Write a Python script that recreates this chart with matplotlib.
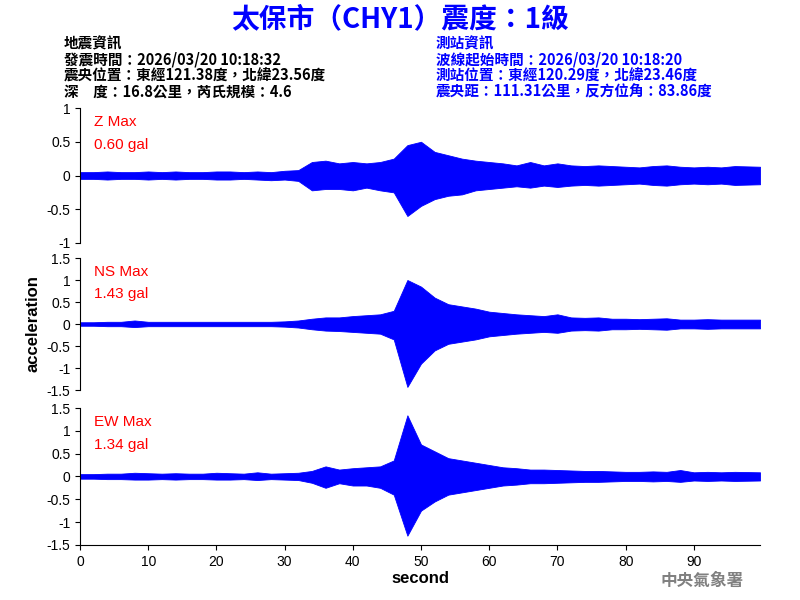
import numpy as np
import matplotlib
matplotlib.use("Agg")
import matplotlib.pyplot as plt

plt.rcParams["font.family"] = ["Noto Sans CJK TC", "DejaVu Sans"]

# envelope of each trace, read every 2 s (gal); last sample is the record end at 99.7 s
t = np.append(np.arange(0, 98, 2), 99.7)
z_up = [0.05,0.05,0.06,0.05,0.05,0.06,0.05,0.06,0.05,0.05,0.06,0.06,0.05,0.06,0.05,0.07,
        0.08,0.20,0.22,0.18,0.20,0.18,0.20,0.25,0.45,0.50,0.35,0.30,0.25,0.22,0.20,0.18,
        0.15,0.20,0.15,0.18,0.15,0.14,0.15,0.14,0.13,0.12,0.14,0.15,0.13,0.12,0.13,0.12,0.14,0.13]
z_lo = [-0.05,-0.05,-0.06,-0.05,-0.05,-0.06,-0.05,-0.06,-0.05,-0.05,-0.06,-0.06,-0.05,-0.06,-0.07,-0.06,
        -0.08,-0.22,-0.20,-0.20,-0.22,-0.18,-0.22,-0.25,-0.60,-0.45,-0.35,-0.30,-0.28,-0.22,-0.20,-0.18,
        -0.16,-0.18,-0.15,-0.17,-0.15,-0.14,-0.15,-0.14,-0.13,-0.12,-0.14,-0.15,-0.13,-0.12,-0.13,-0.12,-0.14,-0.13]
ns_up = [0.04,0.04,0.05,0.05,0.08,0.05,0.05,0.05,0.05,0.05,0.05,0.05,0.05,0.05,0.05,0.06,
         0.08,0.12,0.15,0.15,0.18,0.20,0.22,0.30,1.00,0.85,0.60,0.45,0.40,0.35,0.28,0.25,
         0.22,0.20,0.18,0.22,0.15,0.14,0.15,0.12,0.12,0.11,0.12,0.13,0.10,0.10,0.11,0.10,0.10,0.10]
ns_lo = [-0.04,-0.04,-0.05,-0.05,-0.07,-0.05,-0.05,-0.05,-0.05,-0.05,-0.05,-0.05,-0.05,-0.05,-0.05,-0.06,
         -0.08,-0.12,-0.15,-0.16,-0.18,-0.20,-0.22,-0.35,-1.43,-0.90,-0.60,-0.45,-0.40,-0.35,-0.28,-0.25,
         -0.22,-0.20,-0.18,-0.20,-0.15,-0.14,-0.15,-0.12,-0.12,-0.11,-0.12,-0.13,-0.10,-0.10,-0.11,-0.10,-0.10,-0.10]
ew_up = [0.05,0.05,0.06,0.06,0.08,0.07,0.06,0.07,0.06,0.06,0.08,0.07,0.06,0.09,0.06,0.07,
         0.08,0.12,0.22,0.15,0.18,0.20,0.22,0.35,1.34,0.70,0.55,0.40,0.35,0.30,0.25,0.20,
         0.18,0.15,0.15,0.14,0.13,0.12,0.12,0.11,0.10,0.10,0.11,0.10,0.14,0.09,0.10,0.09,0.10,0.09]
ew_lo = [-0.05,-0.05,-0.06,-0.06,-0.07,-0.07,-0.06,-0.07,-0.06,-0.06,-0.07,-0.07,-0.06,-0.08,-0.06,-0.07,
         -0.08,-0.14,-0.25,-0.15,-0.20,-0.20,-0.25,-0.40,-1.30,-0.75,-0.55,-0.40,-0.35,-0.30,-0.25,-0.20,
         -0.18,-0.15,-0.15,-0.14,-0.13,-0.12,-0.12,-0.11,-0.10,-0.10,-0.11,-0.10,-0.12,-0.09,-0.10,-0.09,-0.10,-0.09]

traces = [("Z Max", "0.60 gal", z_up, z_lo, 1.0),
          ("NS Max", "1.43 gal", ns_up, ns_lo, 1.5),
          ("EW Max", "1.34 gal", ew_up, ew_lo, 1.5)]

fig = plt.figure(figsize=(8, 6), dpi=100)
boxes = [(0.10, 0.595, 0.85, 0.225), (0.10, 0.35, 0.85, 0.22), (0.10, 0.092, 0.85, 0.228)]

for i, ((name, val, up, lo, lim), box) in enumerate(zip(traces, boxes)):
    ax = fig.add_axes(box)
    ax.fill_between(t, lo, up, color="blue", linewidth=0.6, edgecolor="blue")
    ax.set_xlim(0, 99.7)
    ax.set_ylim(-lim, lim)
    ax.set_yticks(np.arange(-lim, lim + 0.01, 0.5))
    ax.set_yticklabels([f"{v:g}" for v in np.arange(-lim, lim + 0.01, 0.5)], fontsize=10,
                       family="Liberation Sans")
    for s in ["top", "right"]:
        ax.spines[s].set_visible(False)
    if i < 2:
        ax.spines["bottom"].set_visible(False)
        ax.set_xticks([])
    else:
        ax.set_xticks(range(0, 100, 10))
        ax.set_xticklabels([str(v) for v in range(0, 100, 10)], fontsize=10, family="Liberation Sans")
        ax.set_xlabel("second", fontsize=12, family="Liberation Sans", fontweight="bold", labelpad=2)
    ax.text(0.02, 0.95, name, transform=ax.transAxes, color="red", fontsize=11,
            family="Liberation Sans", va="top")
    ax.text(0.02, 0.78, val, transform=ax.transAxes, color="red", fontsize=11,
            family="Liberation Sans", va="top")
    if i == 1:
        ax.set_ylabel("acceleration", fontsize=12, family="Liberation Sans", fontweight="bold")

fig.text(0.5, 0.968, "太保市（CHY1）震度：1級", color="blue", fontsize=20,
         fontweight="bold", ha="center", va="center")
left = ["地震資訊", "發震時間：2026/03/20 10:18:32", "震央位置：東經121.38度，北緯23.56度",
        "深　度：16.8公里，芮氏規模：4.6"]
right = ["測站資訊", "波線起始時間：2026/03/20 10:18:20", "測站位置：東經120.29度，北緯23.46度",
         "震央距：111.31公里，反方位角：83.86度"]
for k, (a, b) in enumerate(zip(left, right)):
    y = 0.928 - k * 0.027
    fig.text(0.08, y, a, fontsize=10.5, color="black", va="center", fontweight="bold")
    fig.text(0.545, y, b, fontsize=10.5, color="blue", va="center", fontweight="bold")
fig.text(0.93, 0.032, "中央氣象署", fontsize=12, color="gray", fontweight="bold", ha="right",
         va="center")

fig.savefig("out.png", dpi=100, facecolor="white")
